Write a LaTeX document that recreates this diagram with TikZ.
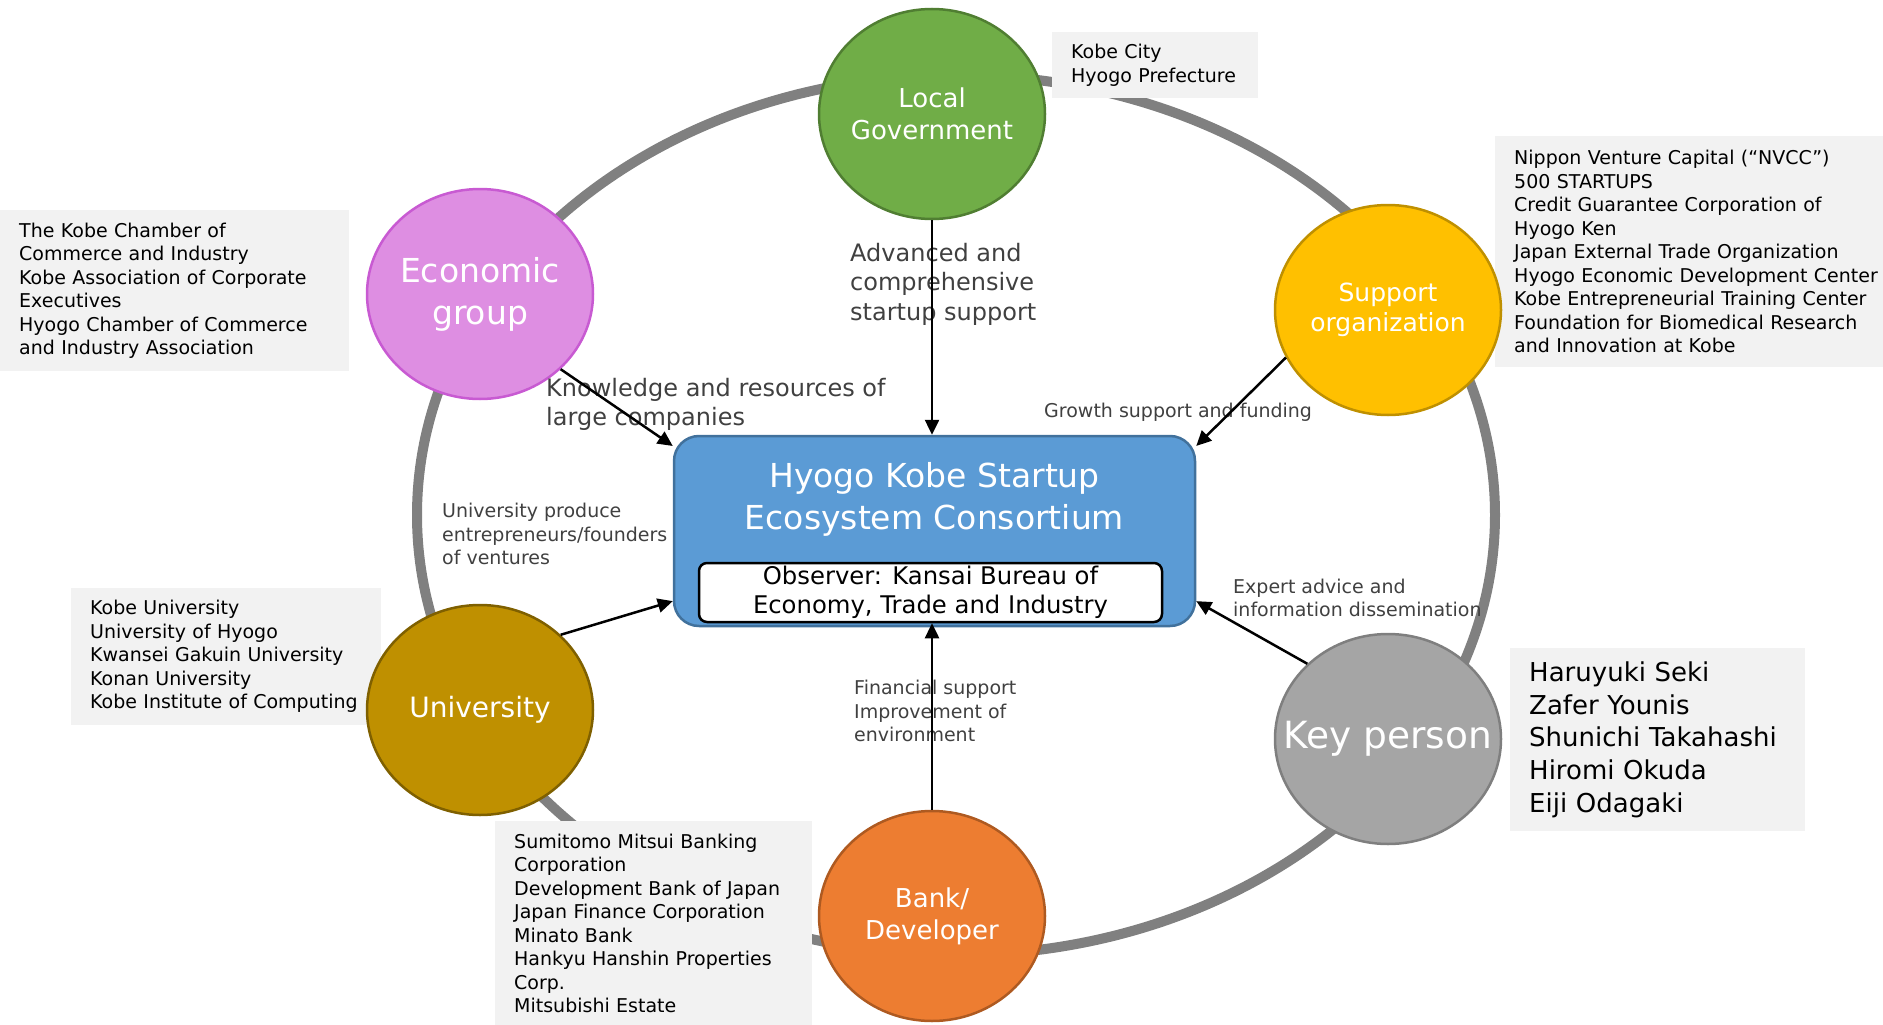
\documentclass[tikz,border=0pt]{standalone}
\usepackage{fontspec}
\setmainfont{DejaVu Sans}
\usetikzlibrary{shapes.geometric,arrows.meta,positioning}

\definecolor{govgreen}{RGB}{112,173,71}
\definecolor{govedge}{RGB}{80,126,50}
\definecolor{econpink}{RGB}{222,142,226}
\definecolor{econedge}{RGB}{200,90,210}
\definecolor{suppyellow}{RGB}{255,192,0}
\definecolor{suppedge}{RGB}{191,144,0}
\definecolor{univgold}{RGB}{191,144,0}
\definecolor{univedge}{RGB}{127,96,0}
\definecolor{keygray}{RGB}{165,165,165}
\definecolor{keyedge}{RGB}{127,127,127}
\definecolor{bankorange}{RGB}{237,125,49}
\definecolor{bankedge}{RGB}{174,90,33}
\definecolor{hubblue}{RGB}{91,155,213}
\definecolor{hubedge}{RGB}{65,113,156}
\definecolor{boxgray}{RGB}{242,242,242}
\definecolor{labelgray}{RGB}{64,64,64}
\definecolor{ringgray}{RGB}{128,128,128}

\newcommand{\fsz}[2]{\fontsize{#1}{#2}\selectfont}

\tikzset{
  actor/.style={ellipse, minimum width=226pt, minimum height=210pt,
    line width=2.5pt, text=white, align=center, inner xsep=-30pt, inner ysep=0pt},
  infobox/.style={fill=boxgray, anchor=north west, align=left,
    inner xsep=19pt, inner ysep=0pt, font=\fsz{19}{23.5}},
  flow/.style={line width=2.5pt, -{Triangle[length=15pt,width=14pt]}},
  flowlabel/.style={text=labelgray, align=left, inner sep=0pt, anchor=west,
    font=\fsz{19}{23.5}},
  ring/.style={draw=ringgray, line width=10pt}
}

\begin{document}
\begin{tikzpicture}[x=1pt,y=1pt]
  \useasboundingbox (0,0) rectangle (1883,-1025);
  \draw[ring] (956,-515) ellipse [x radius=539pt, y radius=440pt];

  \node[infobox, text width=168pt, minimum height=66pt] (citybox) at (1052,-32)
    {Kobe City\\Hyogo Prefecture};
  \node[infobox, text width=311pt, minimum height=161pt] (econbox) at (0,-210)
    {The Kobe Chamber of\\Commerce and Industry\\Kobe Association of Corporate\\Executives\\Hyogo Chamber of Commerce\\and Industry Association};
  \node[infobox, text width=366pt, minimum height=231pt] (suppbox) at (1495,-136)
    {Nippon Venture Capital (“NVCC”)\\500 STARTUPS\\Credit Guarantee Corporation of\\Hyogo Ken\\Japan External Trade Organization\\Hyogo Economic Development Center\\Kobe Entrepreneurial Training Center\\Foundation for Biomedical Research\\and Innovation at Kobe};
  \node[infobox, text width=272pt, minimum height=137pt] (univbox) at (71,-588)
    {Kobe University\\University of Hyogo\\Kwansei Gakuin University\\Konan University\\Kobe Institute of Computing};
  \node[infobox, text width=257pt, minimum height=183pt, font=\fsz{26}{32.8}] (keybox) at (1510,-648)
    {Haruyuki Seki\\Zafer Younis\\Shunichi Takahashi\\Hiromi Okuda\\Eiji Odagaki};
  \node[infobox, text width=279pt, minimum height=204pt] (bankbox) at (495,-821)
    {Sumitomo Mitsui Banking\\Corporation\\Development Bank of Japan\\Japan Finance Corporation\\Minato Bank\\Hankyu Hanshin Properties\\Corp.\\Mitsubishi Estate};

  \node[actor, fill=govgreen, draw=govedge, font=\fsz{26}{32}] (locgov) at (932,-114) {Local\\Government};
  \node[actor, fill=econpink, draw=econedge, font=\fsz{33}{42}] (econ) at (480,-294) {Economic\\group};
  \node[actor, fill=suppyellow, draw=suppedge, font=\fsz{25}{30}] (supp) at (1388,-310) {Support\\organization};
  \node[actor, fill=univgold, draw=univedge, font=\fsz{28}{34}] (univ) at (480,-710) {University};
  \node[actor, fill=keygray, draw=keyedge, font=\fsz{37.5}{45}] (keyp) at (1388,-739) {Key person};
  \node[actor, fill=bankorange, draw=bankedge, font=\fsz{26}{32}] (bank) at (932,-916) {Bank/\\Developer};

  \node[rectangle, rounded corners=25pt, fill=hubblue, draw=hubedge, line width=2.5pt,
    minimum width=521pt, minimum height=190pt] (hub) at (934.5,-531) {};
  \node[text=white, align=center, inner sep=0pt, font=\fsz{33}{42}] (hubtitle) at (934.5,-499)
    {Hyogo Kobe Startup\\Ecosystem Consortium};
  \node[rectangle, rounded corners=8pt, fill=white, draw=black, line width=2.5pt,
    minimum width=463pt, minimum height=59pt, inner sep=0pt, align=center,
    font=\fsz{24.3}{29}] (observer) at (930.5,-592.5)
    {Observer: Kansai Bureau of\\Economy, Trade and Industry};

  \node[flowlabel, font=\fsz{24}{29.5}] (advlbl) at (850,-284) {Advanced and\\comprehensive\\startup support};
  \node[flowlabel, font=\fsz{24}{29}] (knowlbl) at (546,-404) {Knowledge and resources of\\large companies};
  \node[flowlabel] (growlbl) at (1044,-412) {Growth support and funding};
  \node[flowlabel] (univlbl) at (442,-534) {University produce\\entrepreneurs/founders\\of ventures};
  \node[flowlabel] (explbl) at (1233,-598) {Expert advice and\\information dissemination};
  \node[flowlabel] (finlbl) at (854,-711) {Financial support\\Improvement of\\environment};

  \draw[flow] (locgov.south) -- (locgov.south |- hub.north);
  \draw[flow] (econ.-43) -- (hub.162);
  \draw[flow] (supp.205) -- (hub.18);
  \draw[flow] (univ.43) -- (hub.195);
  \draw[flow] (keyp.137) -- (hub.345);
  \draw[flow] (bank.north) -- (bank.north |- observer.south);
\end{tikzpicture}
\end{document}
